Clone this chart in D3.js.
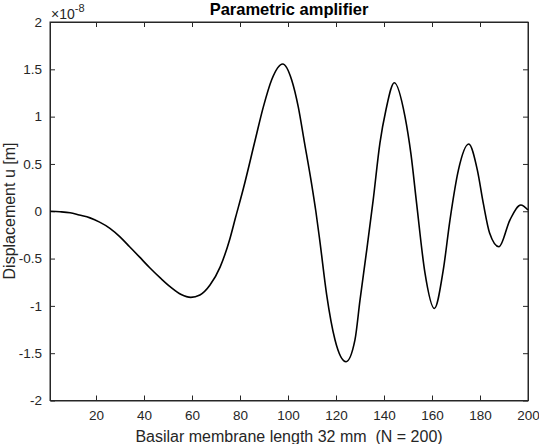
<!DOCTYPE html>
<html><head><meta charset="utf-8">
<script src="https://cdn.jsdelivr.net/npm/d3@7"></script>
<style>
body{margin:0;background:#fff;}
text{font-family:"Liberation Sans",Arial,Helvetica,sans-serif;}
</style></head>
<body><svg id="c" width="539" height="444"></svg>
<script>
const xTicks = [20,40,60,80,100,120,140,160,180,200];
const yTicks = [-2,-1.5,-1,-0.5,0,0.5,1,1.5,2];
const yTickLabels = ["-2","-1.5","-1","-0.5","0","0.5","1","1.5","2"];
const nodeIndex = [1,5,9.2,13,17.5,21.5,25.8,30,34,38,42.5,47,51,55.5,59.5,63.3,67.5,71.7,75.8,78,81.4,86.3,89.7,93.2,97.8,101.5,104.3,106.7,109.9,111.6,113.3,116.1,119.6,124.2,127.9,130,132.8,135.5,138.3,140.8,144.3,148.75,151.25,153.6,157,161,164.7,167.5,171,175.3,178.9,181.4,184,187.9,192.5,197,200];
const displacement = [0,-0.005,-0.016,-0.04,-0.07,-0.115,-0.18,-0.27,-0.375,-0.48,-0.6,-0.71,-0.80,-0.88,-0.91,-0.885,-0.78,-0.59,-0.29,-0.08,0.24,0.75,1.10,1.39,1.556,1.39,1.10,0.75,0.28,0.0,-0.32,-0.88,-1.36,-1.59,-1.36,-0.94,-0.41,0.12,0.72,1.07,1.358,1.00,0.60,0.08,-0.64,-1.027,-0.62,-0.09,0.435,0.71,0.435,0.08,-0.23,-0.375,-0.09,0.066,0.013];

const svg = d3.select("#c");
const L=50, R=528, T=22, B=400.5;
const x = d3.scaleLinear().domain([1,200]).range([L+0.4,R]);
const y = d3.scaleLinear().domain([-2,2]).range([B,T]);
const axisCol = "#262626";

svg.append("rect").attr("x",L).attr("y",T).attr("width",R-L).attr("height",B-T)
  .attr("fill","none").attr("stroke",axisCol).attr("stroke-width",1);

const xb = d3.axisBottom(x).tickValues(xTicks).tickSizeInner(-5).tickSizeOuter(0).tickPadding(10);
const gx = svg.append("g").attr("transform",`translate(0,${B})`).call(xb);
const gxt = svg.append("g").attr("transform",`translate(0,${T})`).call(d3.axisTop(x).tickValues(xTicks).tickSizeInner(-5).tickSizeOuter(0).tickFormat(""));
const yl = d3.axisLeft(y).tickValues(yTicks).tickFormat((d,i)=>yTickLabels[i]).tickSizeInner(-5).tickSizeOuter(0).tickPadding(8);
const gy = svg.append("g").attr("transform",`translate(${L},0)`).call(yl);
const gyr = svg.append("g").attr("transform",`translate(${R},0)`).call(d3.axisRight(y).tickValues(yTicks).tickSizeInner(-5).tickSizeOuter(0).tickFormat(""));
[gx,gxt,gy,gyr].forEach(g=>{
  g.select(".domain").attr("stroke",axisCol);
  g.selectAll(".tick line").attr("stroke",axisCol);
  g.selectAll("text").attr("fill",axisCol).style("font-size","13.5px").style("font-family","'Liberation Sans',Arial,sans-serif");
});

const pts = nodeIndex.map((n,i)=>[n,displacement[i]]);
svg.append("path").datum(pts)
  .attr("d", d3.line().x(d=>x(d[0])).y(d=>y(d[1])).curve(d3.curveMonotoneX))
  .attr("fill","none").attr("stroke","#000").attr("stroke-width",1.6);

const ex = svg.append("text").attr("x",51).attr("y",19).attr("fill",axisCol).style("font-size","14px");
ex.append("tspan").text("×10");
ex.append("tspan").attr("dy",-7).style("font-size","11px").text("-8");

svg.append("text").attr("x",289).attr("y",15).attr("text-anchor","middle")
  .style("font-size","16.5px").style("font-weight","bold").attr("fill","#000").text("Parametric amplifier");
svg.append("text").attr("x",289).attr("y",442).attr("text-anchor","middle").style("white-space","pre")
  .style("font-size","16px").attr("fill",axisCol).text("Basilar membrane length 32 mm  (N = 200)");
svg.append("text").attr("transform","translate(15,211) rotate(-90)").attr("text-anchor","middle")
  .style("font-size","16px").attr("fill",axisCol).text("Displacement u [m]");
</script></body></html>
